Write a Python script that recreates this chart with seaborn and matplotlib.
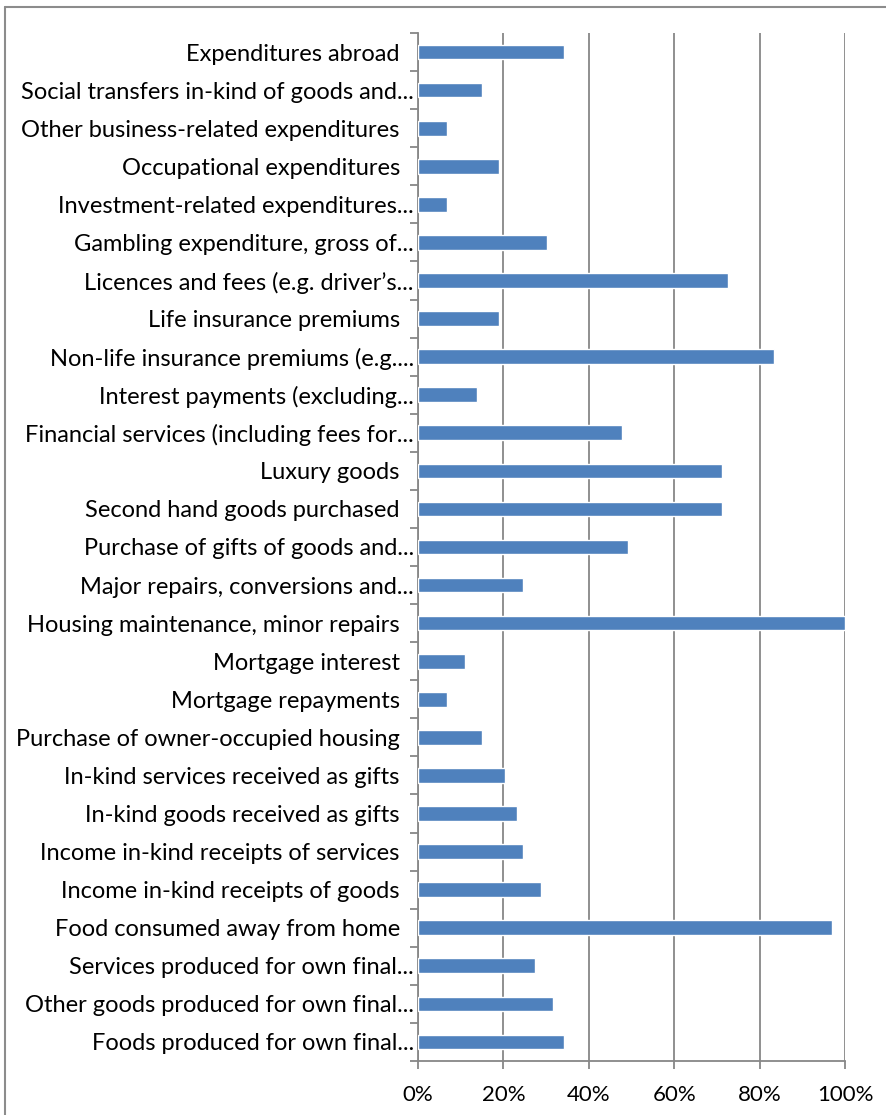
import numpy as np
import pandas as pd
import seaborn as sns
import matplotlib.pyplot as plt
from matplotlib.ticker import PercentFormatter, FixedLocator
from matplotlib.lines import Line2D
from matplotlib.transforms import ScaledTranslation

# ---- DATA (top to bottom, as shown) ----
labels = [
    "Expenditures abroad",
    "Social transfers in-kind of goods and...",
    "Other business-related expenditures",
    "Occupational expenditures",
    "Investment-related expenditures...",
    "Gambling expenditure, gross of...",
    "Licences and fees (e.g. driver\u2019s...",
    "Life insurance premiums",
    "Non-life insurance premiums (e.g....",
    "Interest payments (excluding...",
    "Financial services (including fees for...",
    "Luxury goods",
    "Second hand goods purchased",
    "Purchase of gifts of goods and...",
    "Major repairs, conversions and...",
    "Housing maintenance, minor repairs",
    "Mortgage interest",
    "Mortgage repayments",
    "Purchase of owner-occupied housing",
    "In-kind services received as gifts",
    "In-kind goods received as gifts",
    "Income in-kind receipts of services",
    "Income in-kind receipts of goods",
    "Food consumed away from home",
    "Services produced for own final...",
    "Other goods produced for own final...",
    "Foods produced for own final...",
]
shares = [
    0.342, 0.151, 0.068, 0.190, 0.068, 0.301, 0.726, 0.190, 0.834,
    0.138, 0.478, 0.712, 0.712, 0.492, 0.245, 1.000, 0.109, 0.068,
    0.151, 0.203, 0.231, 0.245, 0.287, 0.970, 0.273, 0.315, 0.342,
]

df = pd.DataFrame({"label": labels, "share": shares})

sns.set_style("white")
plt.rcParams["font.family"] = ["Lato", "DejaVu Sans"]

fig = plt.figure(figsize=(8.87, 11.15), dpi=100)
ax = fig.add_axes([418 / 887, 54 / 1115, 427 / 887, 1028 / 1115])

sns.barplot(data=df, x="share", y="label", color="#4F81BD", width=0.385,
            saturation=1, ax=ax, zorder=3)

grid_col = "#878787"
ax.set_xlim(0, 1)
ax.set_xticks(np.arange(0, 1.01, 0.2))
ax.xaxis.set_major_formatter(PercentFormatter(1.0, decimals=0))
ax.grid(axis="x", color=grid_col, linewidth=1.3, zorder=0)
ax.grid(axis="y", visible=False)

# tick marks between categories, like Excel
ax.yaxis.set_minor_locator(FixedLocator(np.arange(-0.5, len(labels), 1)))
ax.tick_params(axis="y", which="major", length=0, pad=3, labelsize=17, labelcolor="black")
ax.tick_params(axis="y", which="minor", length=6, color=grid_col, width=1.3, left=True)
ax.tick_params(axis="x", which="major", length=6, color=grid_col, width=1.3, bottom=True,
               pad=11, labelsize=16, labelcolor="black")

# Excel kept a trailing space on the untruncated labels
shift = ScaledTranslation(-14 / 100, 0, fig.dpi_scale_trans)
for lbl in ax.get_yticklabels():
    if not lbl.get_text().endswith("..."):
        lbl.set_transform(lbl.get_transform() + shift)

for s in ["top", "right"]:
    ax.spines[s].set_visible(False)
for s in ["left", "bottom"]:
    ax.spines[s].set_color(grid_col)
    ax.spines[s].set_linewidth(1.3)

ax.set_xlabel("")
ax.set_ylabel("")

# outer chart frame (cropped on right and bottom)
fig.add_artist(Line2D([5 / 887, 1], [1 - 7 / 1115, 1 - 7 / 1115],
                      transform=fig.transFigure, color="#8c8c8c", linewidth=1.5))
fig.add_artist(Line2D([5 / 887, 5 / 887], [0, 1 - 7 / 1115],
                      transform=fig.transFigure, color="#8c8c8c", linewidth=1.5))

fig.savefig("out.png", dpi=100)
